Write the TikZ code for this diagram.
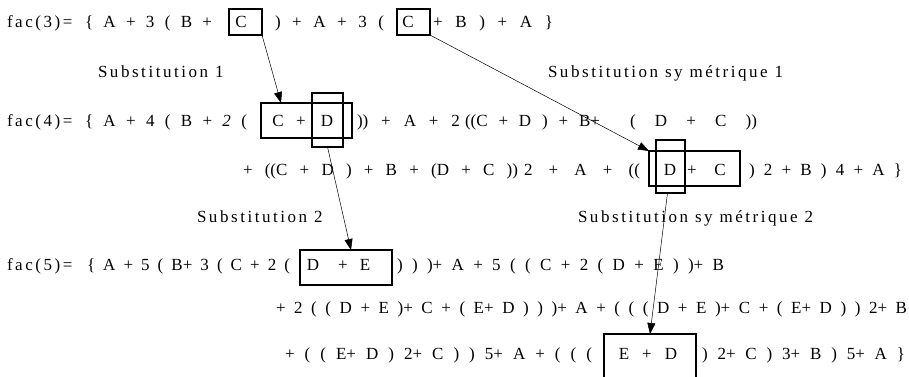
\documentclass[tikz,border=0pt]{standalone}
\usepackage{fontspec}
\setmainfont{Liberation Serif}
\newfontfamily\spaced{Liberation Serif}[LetterSpace=15]
\usetikzlibrary{arrows.meta}
\tikzset{
  txt/.style={inner sep=0pt, outer sep=0pt, font=\fontsize{17}{20}\selectfont},
  frame/.style={draw, line width=1.1pt, inner sep=0pt, outer sep=0pt},
  arr/.style={line width=0.5pt, -{Triangle[length=11pt,width=8pt]}}
}
% a run of tokens stretched between two x positions on a baseline
\newcommand\seg[5]{\node[txt, anchor=base west] (#1) at (#2,#4)
  {\makebox[\dimexpr #3pt-#2pt\relax][s]{#5}};}
\newcommand\tok[4]{\node[txt, anchor=base] (#1) at (#2,#3) {#4};}
\begin{document}
\begin{tikzpicture}[x=1pt, y=-1pt]
\useasboundingbox (0,0) rectangle (909,376);

% fac(3)
\node[txt, anchor=base west] (f3) at (7,27) {\spaced fac(3)=};
\seg{r1a}{85}{212}{27}{\{ A + 3 ( B +}
\node[frame, minimum width=33pt, minimum height=26pt] (c1) at (245.5,22) {};
\tok{r1c}{241}{27}{C}
\seg{r1b}{275}{384}{27}{) + A + 3 (}
\node[frame, minimum width=33pt, minimum height=26pt] (c2) at (413.5,22) {};
\tok{r1d}{408}{27}{C}
\seg{r1e}{433}{553}{27}{+ B ) + A \}}

% labels of the first step
\node[txt, anchor=base west] (s1) at (98,77) {\spaced Substitution 1};
\node[txt, anchor=base west] (ss1) at (548,77) {\spaced Substitution sy m\'etrique 1};

% fac(4)
\node[txt, anchor=base west] (f4) at (7,126) {\spaced fac(4)=};
\seg{r2a}{85}{247}{126}{\{ A + 4 ( B + \textit{2} (}
\node[frame, minimum width=91pt, minimum height=35pt] (cd) at (306.5,120.5) {};
\node[frame, minimum width=31pt, minimum height=54pt] (dt) at (327.5,120) {};
\tok{r2c}{278}{126}{C}
\tok{r2p}{301}{126}{+}
\tok{r2d}{327}{126}{D}
\seg{r2b}{357}{460}{126}{)) + A + 2}
\seg{r2e}{465}{600}{126}{((C + D ) + B+}
\seg{r2f}{630}{757}{126}{( D + C ))}

\seg{r3a}{243}{518}{175}{+ ((C + D ) + B + (D + C ))}
\seg{r3b}{524}{640}{175}{2 + A + ((}
\node[frame, minimum width=91pt, minimum height=35pt] (dc) at (694.5,168.5) {};
\node[frame, minimum width=29pt, minimum height=53pt] (dt2) at (670.5,166.5) {};
\tok{r3d}{670}{175}{D}
\tok{r3p}{692}{175}{+}
\tok{r3c}{720}{175}{C}
\seg{r3e}{749}{902}{175}{) 2 + B ) 4 + A \}}

% labels of the second step
\node[txt, anchor=base west] (s2) at (197,222) {\spaced Substitution 2};
\node[txt, anchor=base west] (ss2) at (578,222) {\spaced Substitution sy m\'etrique 2};

% fac(5)
\node[txt, anchor=base west] (f5) at (7,270) {\spaced fac(5)=};
\seg{r4a}{87}{290}{270}{\{ A + 5 ( B+ 3 ( C + 2 (}
\node[frame, minimum width=92pt, minimum height=35pt] (de) at (346,267.5) {};
\tok{r4d}{313}{270}{D}
\tok{r4p}{343}{270}{+}
\tok{r4e}{365}{270}{E}
\seg{r4b}{397}{724}{270}{) ) )+ A + 5 ( ( C + 2 ( D + E ) )+ B}

\seg{r5}{276}{907}{313}{+ 2 ( ( D + E )+ C + ( E+ D ) ) )+ A + ( ( ( D + E )+ C + ( E+ D ) ) 2+ B}

\seg{r6a}{285}{592}{359}{+ ( ( E+ D ) 2+ C ) ) 5+ A + ( ( (}
\node[frame, minimum width=92pt, minimum height=46pt] (ed) at (650,357) {};
\tok{r6e}{624}{359}{E}
\tok{r6p}{647}{359}{+}
\tok{r6d}{671}{359}{D}
\seg{r6b}{702}{905}{359}{) 2+ C ) 3+ B ) 5+ A \}}

% substitution arrows
\draw[arr] (c1.south east) -- ([xshift=20pt]cd.north west);
\draw[arr] (c2.south east) -- (dc.north west);
\draw[arr] (dt.south) -- ([xshift=5pt]de.north);
\draw[arr] ([xshift=-3pt]dt2.south) -- (ed.north);
\end{tikzpicture}
\end{document}
